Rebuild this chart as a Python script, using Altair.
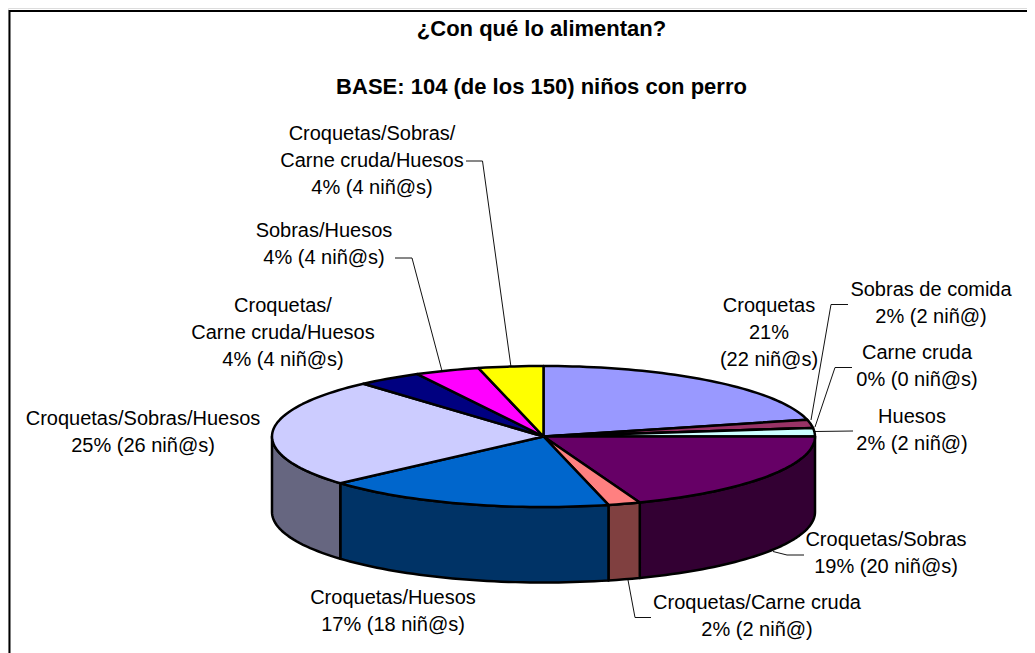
import math
import altair as alt
import pandas as pd

# --- chart values ---
categories = ["Croquetas", "Sobras de comida", "Carne cruda", "Huesos", "Croquetas/Sobras",
              "Croquetas/Carne cruda", "Croquetas/Huesos", "Croquetas/Sobras/Huesos",
              "Croquetas/Carne cruda/Huesos", "Sobras/Huesos", "Croquetas/Sobras/Carne cruda/Huesos"]
counts = [22, 2, 0, 2, 20, 2, 18, 26, 4, 4, 4]
top_colors = ["#9999FF", "#993366", "#FFFFCC", "#CCFFFF", "#660066", "#FF8080",
              "#0066CC", "#CCCCFF", "#000080", "#FF00FF", "#FFFF00"]
side_colors = ["#4D4D80", "#4D1A33", "#808066", "#668080", "#330033", "#804040",
               "#003366", "#666680", "#000040", "#800080", "#808000"]
label_texts = [
    ["Croquetas", "21%", "(22 niñ@s)"],
    ["Sobras de comida", "2% (2 niñ@)"],
    ["Carne cruda", "0% (0 niñ@s)"],
    ["Huesos", "2% (2 niñ@)"],
    ["Croquetas/Sobras", "19% (20 niñ@s)"],
    ["Croquetas/Carne cruda", "2% (2 niñ@)"],
    ["Croquetas/Huesos", "17% (18 niñ@s)"],
    ["Croquetas/Sobras/Huesos", "25% (26 niñ@s)"],
    ["Croquetas/", "Carne cruda/Huesos", "4% (4 niñ@s)"],
    ["Sobras/Huesos", "4% (4 niñ@s)"],
    ["Croquetas/Sobras/", "Carne cruda/Huesos", "4% (4 niñ@s)"],
]
titles = ["¿Con qué lo alimentan?", "BASE: 104 (de los 150) niños con perro"]

# --- layout (page pixels) ---
CX, CY, RX, RY, DEPTH = 543.5, 436.5, 271.5, 70.5, 75.5
label_x = [769, 931, 917, 912, 886, 757, 393, 143, 283, 324, 372]
label_y = [306, 290, 353, 417, 540, 603, 598, 419, 306, 231, 134]
title_x = [541.5, 541.5]
title_y = [29, 87]
leaders = {
    1: [(848, 304.5), (831, 304.5), (811, 420)],
    2: [(852, 367.5), (835, 367.5), (815, 427)],
    3: [(853, 431), (815, 431.5)],
    4: [(804, 555), (787, 555), (773, 551.5)],
    5: [(651, 617.5), (635, 617.5), (628, 580)],
    9: [(395, 258), (412, 258), (442, 371)],
    10: [(466, 161), (482.5, 161), (511, 367)],
}
border = [(1035, 11), (9.5, 11), (9.5, 653)]


def pt(angle, dy=0.0):
    r = math.radians(angle)
    return CX + RX * math.sin(r), CY - RY * math.cos(r) + dy


def arc(a0, a1):
    n = max(1, int(abs(a1 - a0) / 1.5))
    return [a0 + (a1 - a0) * k / n for k in range(n + 1)]


total = sum(counts)
tops, sides = [], []
start = 0.0
for idx, value in enumerate(counts):
    end = start + value / total * 360
    poly = [(CX, CY)] + [pt(a) for a in arc(start, end)] + [(CX, CY)]
    tops += [dict(s=idx, i=i, x=p[0], y=p[1], c=top_colors[idx]) for i, p in enumerate(poly)]
    a0, a1 = max(start, 90), min(end, 270)
    if a1 > a0:
        poly = [pt(a) for a in arc(a0, a1)] + [pt(a, DEPTH) for a in arc(a1, a0)]
        poly.append(poly[0])
        sides += [dict(s=idx, i=i, x=p[0], y=p[1], c=side_colors[idx]) for i, p in enumerate(poly)]
    start = end

x_scale = alt.Scale(domain=[8, 1027], range=[0, 1019], nice=False, zero=False)
y_scale = alt.Scale(domain=[653, 8], nice=False, zero=False)
X = alt.X("x:Q", scale=x_scale, axis=None)
Y = alt.Y("y:Q", scale=y_scale, axis=None)


def polygons(rows):
    return alt.Chart(pd.DataFrame(rows)).mark_line(
        stroke="black", strokeWidth=2.5, strokeJoin="round", clip=True
    ).encode(x=X, y=Y, detail="s:N", order="i:Q", fill=alt.Fill("c:N", scale=None, legend=None))


leader_rows = [dict(s=k, i=i, x=p[0], y=p[1]) for k, pts in leaders.items() for i, p in enumerate(pts)]
leader_layer = alt.Chart(pd.DataFrame(leader_rows)).mark_line(
    stroke="#111111", strokeWidth=1
).encode(x=X, y=Y, detail="s:N", order="i:Q")

border_rows = [dict(i=i, x=p[0], y=p[1]) for i, p in enumerate(border)]
border_layer = alt.Chart(pd.DataFrame(border_rows)).mark_line(
    stroke="black", strokeWidth=2, clip=True
).encode(x=X, y=Y, order="i:Q")

label_df = pd.DataFrame({"x": label_x, "y": label_y, "t": label_texts})
labels = alt.Chart(label_df).mark_text(
    font="Liberation Sans", fontSize=20, color="black", align="center", baseline="middle", lineHeight=27
).encode(x=X, y=Y, text="t:N")

title_df = pd.DataFrame({"x": title_x, "y": title_y, "t": titles})
title_layer = alt.Chart(title_df).mark_text(
    font="Liberation Sans", fontSize=22, fontWeight="bold", color="black", align="center", baseline="middle"
).encode(x=X, y=Y, text="t:N")

chart = alt.layer(
    border_layer, leader_layer, polygons(sides), polygons(tops), labels, title_layer
).properties(width=1019, height=645, padding=0, autosize=alt.AutoSizeParams(type="none")
).configure_view(stroke=None).configure(background="white")

chart.save("out.html", embed_options={"renderer": "svg", "actions": False})
